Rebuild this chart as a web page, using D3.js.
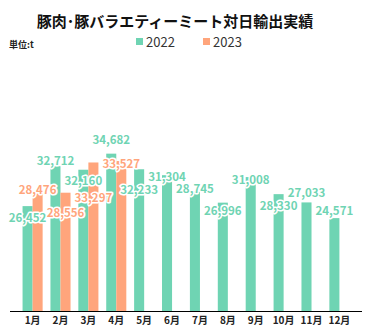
<!DOCTYPE html>
<html>
<head>
<meta charset="utf-8">
<script src="https://cdn.jsdelivr.net/npm/d3@7"></script>
<style>
  body { margin: 0; background: #fff; }
  text { font-family: "Noto Sans CJK JP", "Noto Sans", sans-serif; }
</style>
</head>
<body>
<div id="chart"></div>
<script>
// monthly pork / pork variety meat exports to Japan (t)
const months = ["1月", "2月", "3月", "4月", "5月", "6月", "7月", "8月", "9月", "10月", "11月", "12月"];
const seriesNames = ["2022", "2023"];
const values2022 = [26452, 32712, 32160, 34682, 32233, 31304, 28745, 26996, 31008, 28330, 27033, 24571];
const values2023 = [28476, 28556, 33297, 33527];

// label nudges from the bar top (px), so the labels sit where they were set
const nudge2022 = [10.6, -5.9, 10.3, -14.4, 19.7, 0.8, -3.2, 7.3, 1.9, 10.9, -10.7, -8];
const nudge2023 = [-4.2, 19, 34.8, 2.3];

const colors = { "2022": "#6fd4b3", "2023": "#ffa57c" };

const width = 371, height = 334;
const left = 10, right = 362, baseY = 311, topY = 56;

const svg = d3.select("#chart").append("svg")
  .attr("width", width)
  .attr("height", height);

const x = d3.scaleBand()
  .domain(months)
  .range([left, right])
  .paddingInner(0.28)
  .paddingOuter(0.45);

const xs = d3.scaleBand()
  .domain(seriesNames)
  .range([0, x.bandwidth()]);

const y = d3.scaleLinear()
  .domain([10000, 50000])
  .range([baseY, topY]);

const rows = [];
values2022.forEach((v, i) => rows.push({ month: months[i], series: "2022", value: v, nudge: nudge2022[i] }));
values2023.forEach((v, i) => rows.push({ month: months[i], series: "2023", value: v, nudge: nudge2023[i] }));

// title
svg.append("text")
  .attr("x", 175)
  .attr("y", 20)
  .attr("text-anchor", "middle")
  .attr("dominant-baseline", "central")
  .attr("font-size", 15)
  .attr("font-weight", 700)
  .attr("fill", "#111")
  .text("豚肉･豚バラエティーミート対日輸出実績");

svg.append("text")
  .attr("x", 9)
  .attr("y", 44)
  .attr("dominant-baseline", "central")
  .attr("font-size", 9)
  .attr("font-weight", 700)
  .attr("fill", "#222")
  .text("単位:t");

// legend
const legend = svg.selectAll("g.legend")
  .data(seriesNames)
  .enter()
  .append("g")
  .attr("class", "legend")
  .attr("transform", (d, i) => `translate(${136 + i * 67},0)`);

legend.append("rect")
  .attr("x", 0)
  .attr("y", 38)
  .attr("width", 7)
  .attr("height", 7)
  .attr("fill", (d) => colors[d]);

legend.append("text")
  .attr("x", 10)
  .attr("y", 41.5)
  .attr("dominant-baseline", "central")
  .attr("font-size", 13)
  .attr("fill", "#333")
  .text((d) => d);

// bars
svg.append("g")
  .selectAll("rect")
  .data(rows)
  .enter()
  .append("rect")
  .attr("x", (d) => x(d.month) + xs(d.series))
  .attr("y", (d) => y(d.value))
  .attr("width", xs.bandwidth())
  .attr("height", (d) => baseY - y(d.value))
  .attr("fill", (d) => colors[d.series]);

// axis line and month labels
const axis = svg.append("g")
  .attr("transform", `translate(0,${baseY})`)
  .call(d3.axisBottom(x).tickSize(0).tickPadding(6));

axis.select(".domain")
  .attr("d", `M${left},0.5H${right}`)
  .attr("stroke", "#000");

axis.selectAll(".tick text")
  .attr("font-family", "'Noto Sans CJK JP', sans-serif")
  .attr("font-size", 10)
  .attr("font-weight", 700)
  .attr("fill", "#222");

// value labels with white halo
svg.append("g")
  .selectAll("text")
  .data(rows)
  .enter()
  .append("text")
  .attr("x", (d) => x(d.month) + xs(d.series) + xs.bandwidth() / 2)
  .attr("y", (d) => y(d.value) + d.nudge)
  .attr("text-anchor", "middle")
  .attr("dominant-baseline", "central")
  .attr("font-size", 11.5)
  .attr("font-weight", 700)
  .attr("fill", (d) => colors[d.series])
  .attr("stroke", "#fff")
  .attr("stroke-width", 3)
  .attr("stroke-linejoin", "round")
  .attr("paint-order", "stroke")
  .text((d) => d3.format(",")(d.value));
</script>
</body>
</html>
